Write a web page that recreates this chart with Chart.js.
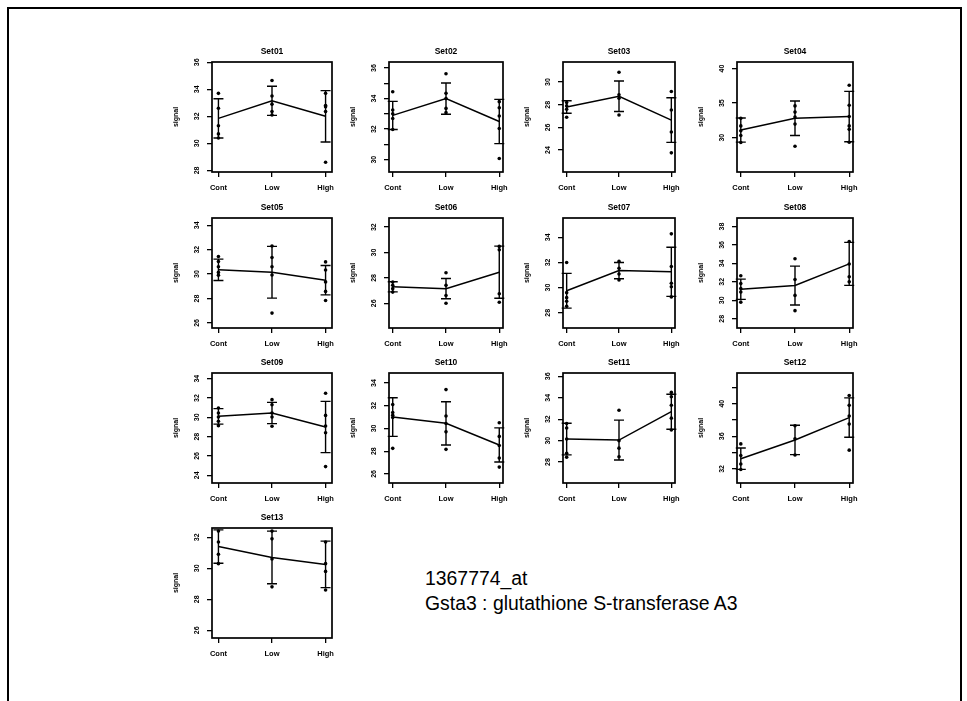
<!DOCTYPE html>
<html>
<head>
<meta charset="utf-8">
<script src="https://cdn.jsdelivr.net/npm/chart.js@4.4.1/dist/chart.umd.min.js"></script>
<style>
  html, body { margin: 0; padding: 0; background: #fff; }
  body { width: 967px; height: 701px; position: relative; overflow: hidden; font-family: "Liberation Sans", Arial, sans-serif; }
  #frame { position: absolute; left: 7px; top: 7px; width: 955px; height: 700px; border: 2px solid #000; border-bottom: none; box-sizing: border-box; }
  canvas { position: absolute; }
  .note { position: absolute; left: 425px; font-size: 19.4px; line-height: 1; color: #000; white-space: nowrap; }
</style>
</head>
<body>
<div id="frame"></div>
<div class="note" style="top:569px">1367774_at</div>
<div class="note" style="top:594px">Gsta3 : glutathione S-transferase A3</div>
<script>
"use strict";

// ---- data ----
const groups = [ "Cont", "Low", "High" ];
const setNames = [ "Set01", "Set02", "Set03", "Set04", "Set05", "Set06", "Set07",
	"Set08", "Set09", "Set10", "Set11", "Set12", "Set13" ];

// group means (line) per set: Cont, Low, High
const groupMeans = [
	[ 31.85, 33.15, 32.0 ],
	[ 32.9, 34.0, 32.5 ],
	[ 27.8, 28.75, 26.65 ],
	[ 31.1, 32.8, 33.05 ],
	[ 30.35, 30.15, 29.5 ],
	[ 27.3, 27.15, 28.45 ],
	[ 29.75, 31.35, 31.25 ],
	[ 31.2, 31.6, 33.95 ],
	[ 30.1, 30.45, 29.0 ],
	[ 31.0, 30.45, 28.55 ],
	[ 30.15, 30.05, 32.7 ],
	[ 33.25, 35.55, 38.3 ],
	[ 31.4, 30.7, 30.25 ]
];

// half length of the error bars
const groupSDs = [
	[ 1.45, 1.08, 1.9 ],
	[ 0.92, 1.02, 1.45 ],
	[ 0.55, 1.35, 1.97 ],
	[ 1.75, 2.5, 3.65 ],
	[ 0.88, 2.12, 1.2 ],
	[ 0.4, 0.8, 2.05 ],
	[ 1.38, 0.65, 1.95 ],
	[ 1.1, 2.1, 2.33 ],
	[ 0.8, 1.1, 2.65 ],
	[ 1.7, 1.9, 1.5 ],
	[ 1.48, 1.86, 1.63 ],
	[ 1.31, 1.8, 2.42 ],
	[ 1.08, 1.7, 1.5 ]
];

// single samples per group
const groupPoints = [
	[ [ 33.7, 32.6, 31.3, 30.7, 30.4 ], [ 34.65, 33.5, 32.9, 32.35, 32.1 ], [ 33.7, 32.8, 32.7, 32.35, 28.6 ] ],
	[ [ 34.45, 33.25, 33.0, 32.7, 31.98 ], [ 35.63, 34.35, 34.0, 33.36, 33.08 ], [ 33.8, 33.4, 32.86, 32.04, 30.07 ] ],
	[ [ 28.2, 27.9, 27.6, 26.9 ], [ 30.86, 28.88, 28.58, 27.1 ], [ 29.17, 27.54, 25.6, 23.76 ] ],
	[ [ 32.8, 31.7, 31.0, 30.3, 29.3 ], [ 34.6, 33.7, 33.0, 31.96, 28.76 ], [ 37.6, 34.7, 33.06, 31.7, 31.2, 29.33 ] ],
	[ [ 31.44, 31.03, 30.6, 30.14, 29.9 ], [ 32.3, 31.36, 30.6, 29.92, 26.8 ], [ 31.0, 30.33, 29.36, 28.58, 27.83 ] ],
	[ [ 27.68, 27.41, 27.15, 26.88 ], [ 28.4, 27.41, 26.61, 26.0 ], [ 30.48, 30.21, 26.75, 26.08 ] ],
	[ [ 32.0, 29.6, 29.2, 28.92, 28.52 ], [ 32.08, 31.54, 31.08, 30.6 ], [ 34.27, 31.68, 30.34, 30.07, 29.26 ] ],
	[ [ 32.66, 31.82, 31.27, 30.9, 29.8 ], [ 34.5, 32.26, 30.53, 28.88 ], [ 36.37, 33.93, 32.55, 32.0 ] ],
	[ [ 30.97, 30.45, 30.03, 29.59, 29.14 ], [ 31.83, 31.31, 30.45, 30.03, 29.07 ], [ 32.5, 30.2, 29.1, 28.4, 24.9 ] ],
	[ [ 32.1, 31.4, 31.17, 30.96, 28.25 ], [ 33.42, 31.1, 30.44, 29.7, 28.16 ], [ 30.5, 29.3, 28.5, 27.4, 26.6 ] ],
	[ [ 31.6, 31.18, 30.16, 28.83, 28.46 ], [ 32.84, 30.0, 29.3, 28.5 ], [ 34.5, 34.1, 33.3, 32.1, 31.0 ] ],
	[ [ 35.07, 33.64, 32.61, 31.92 ], [ 37.3, 35.7, 33.7 ], [ 41.0, 39.8, 38.5, 37.5, 34.3 ] ],
	[ [ 32.4, 31.7, 30.9, 30.3 ], [ 32.4, 31.9, 30.6, 28.8 ], [ 31.7, 30.3, 29.8, 28.6 ] ]
];

// y axis limits and ticks of each panel
const yLimits = [
	[ 27.88, 36.02 ], [ 29.19, 36.4 ], [ 22.07, 31.77 ], [ 25.02, 40.96 ],
	[ 25.58, 34.6 ], [ 24.05, 32.72 ], [ 26.79, 35.53 ], [ 27.0, 38.92 ],
	[ 23.2, 34.59 ], [ 25.2, 34.88 ], [ 26.05, 36.31 ], [ 30.27, 43.77 ],
	[ 25.5, 32.6 ]
];
const yTicks = [
	[ 28, 30, 32, 34, 36 ], [ 30, 31, 32, 33, 34, 35, 36 ], [ 24, 26, 28, 30 ], [ 30, 35, 40 ],
	[ 26, 28, 30, 32, 34 ], [ 26, 28, 30, 32 ], [ 28, 30, 32, 34 ], [ 28, 30, 32, 34, 36, 38 ],
	[ 24, 26, 28, 30, 32, 34 ], [ 26, 28, 30, 32, 34 ], [ 28, 30, 32, 34, 36 ], [ 32, 34, 36, 38, 40, 42 ],
	[ 26, 28, 30, 32 ]
];
const yTickLabels = [
	[ "28", "30", "32", "34", "36" ], [ "30", "", "32", "", "34", "", "36" ], [ "24", "26", "28", "30" ], [ "30", "35", "40" ],
	[ "26", "28", "30", "32", "34" ], [ "26", "28", "30", "32" ], [ "28", "30", "32", "34" ], [ "28", "30", "32", "34", "36", "38" ],
	[ "24", "26", "28", "30", "32", "34" ], [ "26", "28", "30", "32", "34" ], [ "28", "30", "32", "34", "36" ], [ "32", "", "36", "", "40", "" ],
	[ "26", "28", "30", "32" ]
];

// ---- page layout ----
var rowTop = [ 62, 218, 373, 528 ],
	colLeft = [ 212, 389, 563, 737 ],
	colWidth = [ 120, 114, 112, 116 ],
	colXPad = [ 0.12, 0.07, 0.07, 0.07 ],
	boxHeight = 110,
	axisW = 50, titleH = 20, xAxisH = 30, rightPad = 12,
	fontFamily = "'Liberation Sans', Arial, sans-serif";

// mean +/- sd bars, drawn through the chart's own scales
var errorBars = {
	id: "errorBars",
	afterDatasetsDraw: function( chart ) {
		var ctx = chart.ctx,
			x = chart.scales.x,
			y = chart.scales.y,
			ds = chart.data.datasets[ 0 ];

		ctx.save();
		ctx.strokeStyle = "#000";
		ctx.lineWidth = 1.4;
		ds.data.forEach( function( p, i ) {
			var px = x.getPixelForValue( p.x ),
				top = y.getPixelForValue( p.y + ds.sdValues[ i ] ),
				bot = y.getPixelForValue( p.y - ds.sdValues[ i ] );
			ctx.beginPath();
			ctx.moveTo( px, top ); ctx.lineTo( px, bot );
			ctx.moveTo( px - 5, top ); ctx.lineTo( px + 5, top );
			ctx.moveTo( px - 5, bot ); ctx.lineTo( px + 5, bot );
			ctx.stroke();
		} );
		ctx.restore();
	}
};

// the R style box round the plot region
var plotBox = {
	id: "plotBox",
	afterDraw: function( chart ) {
		var a = chart.chartArea, ctx = chart.ctx;
		ctx.save();
		ctx.strokeStyle = "#000";
		ctx.lineWidth = 1.7;
		ctx.strokeRect( a.left, a.top, a.right - a.left, a.bottom - a.top );
		ctx.restore();
	}
};

setNames.forEach( function( name, k ) {
	var row = Math.floor( k / 4 ),
		col = k % 4,
		w = axisW + colWidth[ col ] + rightPad,
		h = titleH + boxHeight + xAxisH,
		cv = document.createElement( "canvas" ),
		points = [];

	cv.width = w;
	cv.height = h;
	cv.style.left = ( colLeft[ col ] - axisW ) + "px";
	cv.style.top = ( rowTop[ row ] - titleH ) + "px";
	cv.style.width = w + "px";
	cv.style.height = h + "px";
	document.body.appendChild( cv );

	groupPoints[ k ].forEach( function( vals, i ) {
		vals.forEach( function( v ) {
			points.push( { x: i + 1, y: v } );
		} );
	} );

	new Chart( cv, {
		data: {
			datasets: [ {
				type: "line",
				data: groupMeans[ k ].map( function( m, i ) { return { x: i + 1, y: m }; } ),
				sdValues: groupSDs[ k ],
				borderColor: "#000",
				borderWidth: 1.5,
				pointRadius: 0,
				tension: 0
			}, {
				type: "scatter",
				data: points,
				pointRadius: 1.8,
				pointBackgroundColor: "#000",
				pointBorderWidth: 0
			} ]
		},
		options: {
			responsive: false,
			animation: false,
			events: [],
			layout: { padding: { left: 0, right: rightPad, top: 0, bottom: 0 } },
			plugins: {
				legend: { display: false },
				tooltip: { enabled: false },
				title: {
					display: true,
					text: name,
					fullSize: false,
					color: "#000",
					font: { family: fontFamily, size: 8.5, weight: "bold", lineHeight: 1.2 },
					padding: { top: 5, bottom: 4.8 }
				}
			},
			scales: {
				x: {
					type: "linear",
					min: 1 - colXPad[ col ],
					max: 3 + colXPad[ col ],
					afterBuildTicks: function( s ) {
						s.ticks = groups.map( function( g, i ) { return { value: i + 1 }; } );
					},
					afterFit: function( s ) { s.height = xAxisH; },
					border: { display: false },
					grid: { drawOnChartArea: false, tickLength: 5, color: "#000", lineWidth: 1.3 },
					ticks: {
						autoSkip: false,
						maxRotation: 0,
						padding: 6,
						color: "#000",
						font: { family: fontFamily, size: 7.5, weight: "bold" },
						callback: function( v ) { return groups[ v - 1 ]; }
					}
				},
				y: {
					type: "linear",
					min: yLimits[ k ][ 0 ],
					max: yLimits[ k ][ 1 ],
					afterBuildTicks: function( s ) {
						s.ticks = yTicks[ k ].map( function( v ) { return { value: v }; } );
					},
					afterFit: function( s ) { s.width = axisW; },
					border: { display: false },
					grid: { drawOnChartArea: false, tickLength: 5, color: "#000", lineWidth: 1.3 },
					ticks: {
						minRotation: 90,
						maxRotation: 90,
						crossAlign: "center",
						padding: 6,
						color: "#000",
						font: { family: fontFamily, size: 7, weight: "bold" },
						callback: function( v, i ) { return yTickLabels[ k ][ i ]; }
					},
					title: {
						display: true,
						text: "signal",
						color: "#000",
						font: { family: fontFamily, size: 7, weight: "bold" },
						padding: { top: 10, bottom: 0 }
					}
				}
			}
		},
		plugins: [ errorBars, plotBox ]
	} );
} );
</script>
</body>
</html>
